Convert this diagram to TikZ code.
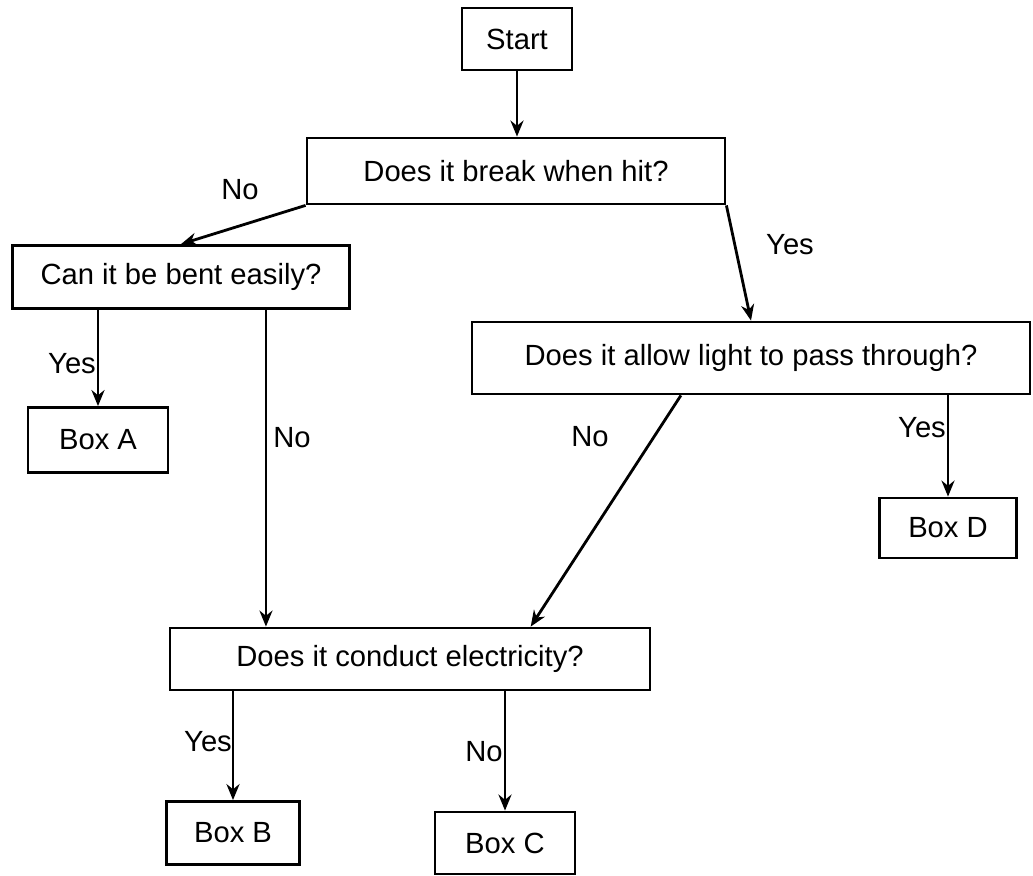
\documentclass[tikz,border=0pt]{standalone}
\usepackage{fontspec}
\setmainfont{Liberation Sans}
\usetikzlibrary{arrows.meta,calc}

\tikzset{
    boite/.style={draw=black, line width=1.4pt, fill=white, inner sep=0pt, align=center},
    fleche/.style={draw=black, line width=1.4pt, -{Stealth[length=8pt, width=6.5pt]}},
}

\begin{document}
\begin{tikzpicture}[x=0.5pt, y=-0.5pt, font=\fontsize{14.6}{17}\selectfont]
            % Cadre de la page
            \path[use as bounding box, fill=white] (0,0) rectangle (1033,876);

            % Boîtes de questions
            \node[boite, minimum width=55pt, minimum height=31pt] (start) at (517,39) {Start};
            \node[boite, minimum width=209pt, minimum height=33pt] (brk) at (516,171) {Does it break when hit?};
            \node[boite, minimum width=168.5pt, minimum height=31.5pt] (bent) at (181,277) {Can it be bent easily?};
            \node[boite, minimum width=279pt, minimum height=36pt] (light) at (751,358) {Does it allow light to pass through?};
            \node[boite, minimum width=240pt, minimum height=31pt] (cond) at (410,659) {Does it conduct electricity?};

            % Boîtes finales
            \node[boite, minimum width=70pt, minimum height=32.5pt] (boxA) at (98,440) {Box A};
            \node[boite, minimum width=68.5pt, minimum height=30pt] (boxD) at (948,528) {Box D};
            \node[boite, minimum width=66.5pt, minimum height=31.5pt] (boxB) at (233,833) {Box B};
            \node[boite, minimum width=70pt, minimum height=31pt] (boxC) at (505,843) {Box C};

            % Points de départ des flèches
            \coordinate (bentNo) at ($(bent.south)!0.5!(bent.south east)$);
            \coordinate (lightNo) at ($(light.south)!0.25!(light.south west)$);
            \coordinate (condIn) at ($(cond.north)!0.5!(cond.north east)$);

            % Flèches
            \draw[fleche] (start.south) -- (start.south |- brk.north);
            \draw[fleche] (brk.south west) -- (bent.north);
            \draw[fleche] (brk.south east) -- (light.north);
            \draw[fleche] (boxA.north |- bent.south) -- (boxA.north);
            \draw[fleche] (bentNo) -- (bentNo |- cond.north);
            \draw[fleche] (boxD.north |- light.south) -- (boxD.north);
            \draw[fleche] (lightNo) -- (condIn);
            \draw[fleche] (boxB.north |- cond.south) -- (boxB.north);
            \draw[fleche] (boxC.north |- cond.south) -- (boxC.north);

            % Étiquettes Yes / No
            \node (noBrk) at (240,190) {No};
            \node (yesBrk) at (790,245) {Yes};
            \node (yesBent) at (72,364) {Yes};
            \node (noBent) at (292,438) {No};
            \node (noLight) at (590,437) {No};
            \node (yesLight) at (922,428) {Yes};
            \node (yesCond) at (208,742) {Yes};
            \node (noCond) at (484,752) {No};
        \end{tikzpicture}
\end{document}
